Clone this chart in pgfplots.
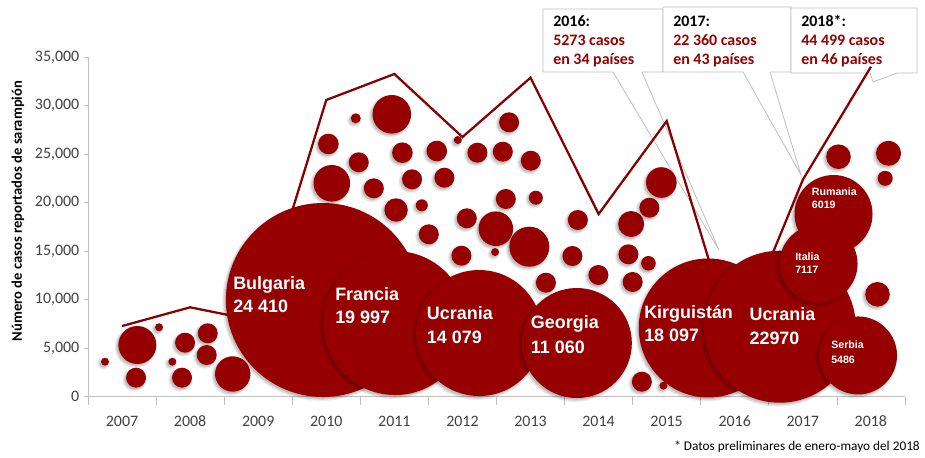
\documentclass[border=0pt]{standalone}
\usepackage{pgfplots}
\pgfplotsset{compat=1.18}
\usepackage{pgfplotstable}
\usepackage{fontspec}
\setmainfont{Carlito}
\newfontfamily\arialf{Liberation Sans}
\definecolor{bubred}{RGB}{150,0,0}
\definecolor{linered}{RGB}{135,0,0}
\definecolor{boxgray}{RGB}{190,190,190}
\definecolor{axgray}{RGB}{191,191,191}
\definecolor{tickgray}{RGB}{64,64,64}
\newdimen\bubr
\pgfdeclareplotmark{bubble}{%
  \pgfsetfillcolor{black}%
  \pgfsetfillopacity{0.08}%
  \pgfmathsetlength\bubr{\pgfplotmarksize+1.4pt}%
  \pgfpathcircle{\pgfqpoint{-1.3pt}{-1.5pt}}{\bubr}\pgfusepathqfill
  \pgfmathsetlength\bubr{\pgfplotmarksize+0.6pt}%
  \pgfpathcircle{\pgfqpoint{-1.3pt}{-1.5pt}}{\bubr}\pgfusepathqfill
  \pgfsetfillopacity{0.12}%
  \pgfpathcircle{\pgfqpoint{-1.0pt}{-1.2pt}}{\pgfplotmarksize}\pgfusepathqfill
  \pgfsetfillopacity{1}%
  \pgfsetfillcolor{bubred}%
  \pgfpathcircle{\pgfpointorigin}{\pgfplotmarksize}\pgfusepathqfill
}

% bubbles: x (year position), y (cases), r (radius, px)
\pgfplotstableread{
x y r
2009.95 9960 97
2011.01 7590 72
2012.245 6560 63
2013.68 5530 55
2015.61 7080 69.5
2016.66 7210 76
2017.45 18820 39
2017.23 13700 39
2017.81 4250 39
2006.75 3606 4
2007.225 5327 19
2007.544 7150 4
2007.206 1958 10
2007.926 5564 10
2008.259 6532 10
2008.244 4296 10
2007.739 3606 4
2007.881 1958 10
2008.626 2339 17.7
2010.433 28684 5
2010.962 29096 19.3
2010.031 26036 10.3
2010.477 24150 10
2010.081 21987 18.3
2010.698 21472 10
2011.118 25139 10.3
2011.623 25315 10.3
2011.932 26448 4
2012.220 25139 10
2012.593 25242 10
2012.685 28272 10
2011.260 22399 10
2011.735 22564 10
2011.025 19236 11.7
2011.403 19720 6
2011.506 16732 10
2012.064 18381 10
2011.985 14527 10
2013.004 24315 10
2012.637 20369 10
2013.078 20503 7
2012.490 17309 17.3
2012.982 15455 20
2012.480 14908 4
2013.695 18205 10
2013.615 14496 10
2013.226 11745 10
2013.997 12539 10
2014.478 17793 13
2014.746 19473 10
2014.921 22069 15.3
2014.438 14671 10
2014.732 13744 7.3
2014.500 11818 10
2014.635 1545 10
2014.952 1133 4
2017.523 24727 12.3
2018.258 25078 12.5
2018.209 22502 7.5
2018.096 10550 12.3
}\bubbles

\pgfplotstableread{
year cases
2007 7280
2008 9210
2009 7800
2010 30570
2011 33250
2012 26750
2013 32870
2014 18820
2015 28400
2016 5273
2017 22360
2018 34000
}\linedata

\begin{document}
\begin{tikzpicture}
\path[use as bounding box] (-66bp,-45.975bp) rectangle (627.75bp,297.525bp);

% callouts (pixel frame)
\begin{scope}[x=0.75bp,y=-0.75bp,xshift=-66bp,yshift=297.525bp]
\draw[boxgray, fill=white, line width=0.6bp] (543,9) -- (663,9) -- (663,72) -- (642,72) -- (719,250) -- (613,72) -- (543,72) -- cycle;
\draw[boxgray, fill=white, line width=0.6bp] (663,7) -- (791,7) -- (791,72) -- (770,72) -- (801,175) -- (743,72) -- (663,72) -- cycle;
\draw[boxgray, fill=white, line width=0.6bp] (791,8) -- (917,8) -- (917,73) -- (897,73) -- (873,82) -- (870,73) -- (791,73) -- cycle;
\begin{scope}[every node/.style={anchor=mid west, inner sep=0pt, font=\fontsize{12}{14}\selectfont\bfseries}]
\node[text=black] at (553,23.3) {2016:};
\node[text=bubred] at (553,42.3) {5273 casos};
\node[text=bubred] at (553,61.7) {en 34 países};
\node[text=black] at (673,23.3) {2017:};
\node[text=bubred] at (673,42.3) {22 360 casos};
\node[text=bubred] at (673,61.7) {en 43 países};
\node[text=black] at (801,23.3) {2018*:};
\node[text=bubred] at (801,42.3) {44 499 casos};
\node[text=bubred] at (801,61.7) {en 46 países};
\end{scope}
\end{scope}

\begin{axis}[
  at={(0,0)}, anchor=south west,
  scale only axis, width=612.75bp, height=254.775bp,
  xmin=2006.5, xmax=2018.5, ymin=0, ymax=35000,
  clip=false,
  axis x line*=bottom, axis y line*=left,
  axis line style={axgray, line width=0.6bp},
  xtick={2007,...,2018},
  minor xtick={2006.5,2007.5,...,2018.5},
  ytick={0,5000,...,35000},
  major x tick style={draw=none},
  minor x tick style={axgray, line width=0.6bp},
  y tick style={axgray, line width=0.6bp},
  tick align=outside,
  minor tick length=6bp, major tick length=3bp,
  scaled y ticks=false,
  /pgf/number format/assume math mode=true,
  xticklabel={\pgfmathprintnumber[1000 sep={}]{\tick}},
  yticklabel style={/pgf/number format/1000 sep={,}},
  ticklabel style={font=\fontsize{12}{14}\selectfont, text=tickgray},
  xticklabel style={yshift=-8bp},
]
\addplot[linered, line width=1.7bp] table[x=year, y=cases] {\linedata};
\addplot[scatter, only marks, mark=bubble,
  scatter/use mapped color={draw=bubred, fill=bubred},
  visualization depends on={\thisrow{r} \as \rad},
  scatter/@pre marker code/.append style={/tikz/mark size=0.7528*\rad}]
  table[x=x, y=y] {\bubbles};
\end{axis}

% labels (pixel frame)
\begin{scope}[x=0.75bp,y=-0.75bp,xshift=-66bp,yshift=297.525bp]
\begin{scope}[every node/.style={anchor=mid west, inner sep=0pt, text=white, font=\arialf\fontsize{13.5}{15}\selectfont\bfseries}]
\node at (233,286) {Bulgaria};
\node at (233,309) {24 410};
\node at (335,297.7) {Francia};
\node at (335,320.7) {19 997};
\node at (426.7,316.7) {Ucrania};
\node at (426.7,340) {14 079};
\node at (530.7,325.7) {Georgia};
\node at (530.7,350) {11 060};
\node at (644,315) {Kirguistán};
\node at (644,338.3) {18 097};
\node at (749.3,317.3) {Ucrania};
\node at (749.3,341.7) {22970};
\end{scope}
\begin{scope}[every node/.style={anchor=mid west, inner sep=0pt, text=white, font=\arialf\fontsize{8}{9}\selectfont\bfseries}]
\node at (811.7,192.3) {Rumania};
\node at (811.7,205.7) {6019};
\node at (795,257.3) {Italia};
\node at (795,270.7) {7117};
\node at (831,345.7) {Serbia};
\node at (831,360) {5486};
\end{scope}
\node[rotate=90, inner sep=0pt, font=\fontsize{11}{13}\selectfont\bfseries] at (18,211) {Número de casos reportados de sarampión};
\node[anchor=mid east, inner sep=0pt, font=\fontsize{10}{12}\selectfont, text=black] at (920,447) {* Datos preliminares de enero-mayo del 2018};
\end{scope}
\end{tikzpicture}
\end{document}
